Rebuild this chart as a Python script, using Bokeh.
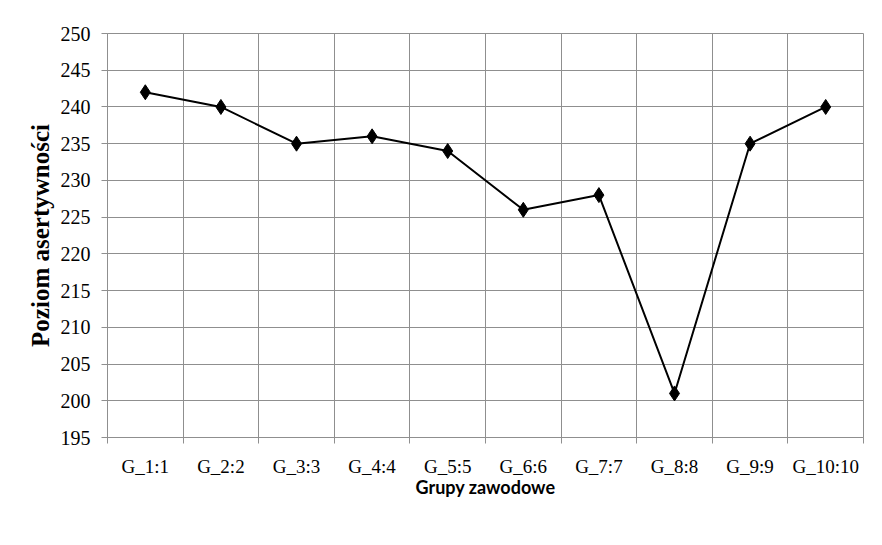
from bokeh.plotting import figure
from bokeh.models import FixedTicker, Range1d, ColumnDataSource
from bokeh.embed import file_html
from bokeh.resources import INLINE

categories = ["G_1:1", "G_2:2", "G_3:3", "G_4:4", "G_5:5",
              "G_6:6", "G_7:7", "G_8:8", "G_9:9", "G_10:10"]
values = [242, 240, 235, 236, 234, 226, 228, 201, 235, 240]
y_ticks = [195, 200, 205, 210, 215, 220, 225, 230, 235, 240, 245, 250]

n = len(categories)
centers = [i + 0.5 for i in range(n)]
bounds = list(range(n + 1))

src = ColumnDataSource(dict(x=centers, y=values, cat=categories))

GRID = "#8f8f8f"

p = figure(width=874, height=537, output_backend="svg", toolbar_location=None,
           x_range=Range1d(0, n), y_range=Range1d(195, 250),
           min_border_left=107, min_border_right=11,
           min_border_top=33, min_border_bottom=100)

p.outline_line_color = GRID
p.outline_line_width = 1

# grids
p.xgrid.ticker = FixedTicker(ticks=bounds)
p.xgrid.grid_line_color = GRID
p.xgrid.grid_line_width = 1
p.ygrid.ticker = FixedTicker(ticks=y_ticks)
p.ygrid.grid_line_color = GRID
p.ygrid.grid_line_width = 1

# x axis
xa = p.xaxis[0]
xa.ticker = FixedTicker(ticks=centers, minor_ticks=bounds)
xa.major_label_overrides = {c: lab for c, lab in zip(centers, categories)}
xa.major_tick_line_color = None
xa.major_tick_out = 0
xa.major_tick_in = 0
xa.minor_tick_line_color = GRID
xa.minor_tick_out = 6
xa.minor_tick_in = 0
xa.axis_line_color = GRID
xa.major_label_text_font = "Liberation Serif"
xa.major_label_text_font_size = "19px"
xa.major_label_text_color = "#000000"
xa.major_label_standoff = 12
xa.axis_label = "Grupy zawodowe"
xa.axis_label_text_font = "Lato"
xa.axis_label_text_font_style = "bold"
xa.axis_label_text_font_size = "18px"
xa.axis_label_text_color = "#000000"
xa.axis_label_standoff = -4

# y axis
ya = p.yaxis[0]
ya.ticker = FixedTicker(ticks=y_ticks)
ya.minor_tick_line_color = None
ya.major_tick_line_color = GRID
ya.major_tick_out = 6
ya.major_tick_in = 0
ya.axis_line_color = GRID
ya.major_label_text_font = "Liberation Serif"
ya.major_label_text_font_size = "20px"
ya.major_label_text_color = "#000000"
ya.major_label_standoff = 11
ya.axis_label = "Poziom asertywności"
ya.axis_label_text_font = "Liberation Serif"
ya.axis_label_text_font_style = "bold"
ya.axis_label_text_font_size = "25px"
ya.axis_label_text_color = "#000000"
ya.axis_label_standoff = 4

p.line("x", "y", source=src, line_color="#000000", line_width=2)
p.scatter("x", "y", source=src, marker="diamond", size=15,
          fill_color="#000000", line_color="#000000")

open("out.html", "w").write(file_html(p, INLINE))
